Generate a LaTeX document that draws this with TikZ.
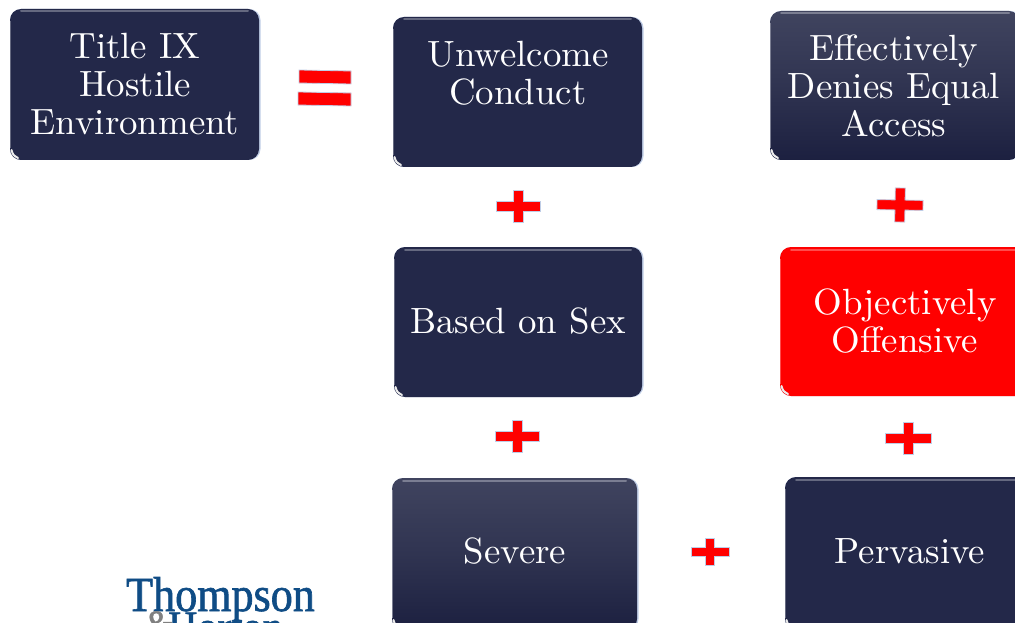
\documentclass[tikz,border=0pt]{standalone}
\usepackage{fontspec}
\newfontfamily\logofont[FakeStretch=0.9,FakeBold=1.2]{Liberation Serif}
\newfontfamily\boxfont[Extension=.otf,FakeStretch=1.01]{lmroman10-regular}
\definecolor{navy}{HTML}{232849}
\definecolor{navytop}{HTML}{40445F}
\definecolor{navybot}{HTML}{1C2040}
\definecolor{logoblue}{HTML}{0F4C85}
\definecolor{edgeblue}{HTML}{BFCDE6}
\tikzset{x=1pt,y=-1pt,
  boxbase/.style={rounded corners=11pt},
  flatnavy/.style={boxbase,fill=navy},
  gradnavy/.style={boxbase,top color=navytop,bottom color=navybot,middle color=navytop!55!navybot},
  redbox/.style={boxbase,fill=red},
  boxtext/.style={text=white,align=center,font=\boxfont\fontsize{36.5}{38}\selectfont,inner sep=0pt},
  symbolshape/.style={fill=red,draw=edgeblue,line width=0.8pt,line join=miter},
}
% #1 name, #2 x1, #3 y1, #4 x2, #5 y2, #6 fill style, #7 highlight colour, #8 text x, #9 text y
\newcommand{\glossybox}[9]{%
  \fill[boxbase,edgeblue] (#2,#3) rectangle (#4+1.5,#5);
  \path[#6] (#2,#3) rectangle (#4,#5);
  \draw[#7,line width=2pt,line cap=round] (#2+11,#3+2.5) -- (#4-11,#3+2.5);
  \draw[#7,line width=1pt] (#2+0.5,#3+12) -- (#2+0.5,#5-12);
  \draw[white!85!gray,line width=2pt,line cap=round] (#2+1.5,#5-10) .. controls (#2+3,#5-5) .. (#2+8,#5-2);
  \coordinate (textpos) at (#8,#9);
}
% #1 name, #2 centre x, #3 centre y, #4 half width, #5 half height, #6 half thickness, #7 angle
\newcommand{\plussign}[7]{%
  \coordinate (#1) at (#2,#3);
  \path[symbolshape,shift={(#1)},rotate=#7]
    (-#4,-#6) -- (-#6,-#6) -- (-#6,-#5) -- (#6,-#5) -- (#6,-#6) -- (#4,-#6)
    -- (#4,#6) -- (#6,#6) -- (#6,#5) -- (-#6,#5) -- (-#6,#6) -- (-#4,#6) -- cycle;
}
\begin{document}
\begin{tikzpicture}
\useasboundingbox (0,0) rectangle (1015,623);
\clip (0,0) rectangle (1015,623);
\fill[white] (0,0) rectangle (1015,623);

\glossybox{title}{10}{9}{259}{160}{flatnavy}{navy!70!white}{135}{84}
\node[boxtext] (title) at (textpos) {Title IX\\Hostile\\Environment};
\glossybox{unwelcome}{393}{17}{642}{167}{flatnavy}{navy!70!white}{518}{73}
\node[boxtext] (unwelcome) at (textpos) {Unwelcome\\Conduct};
\glossybox{denies}{770}{11}{1020}{160}{gradnavy}{navy!60!white}{894}{86}
\node[boxtext] (denies) at (textpos) {Effectively\\Denies Equal\\Access};
\glossybox{sex}{394}{247}{642}{397}{flatnavy}{navy!70!white}{518}{321}
\node[boxtext] (sex) at (textpos) {Based on Sex};
\glossybox{offensive}{780}{247}{1030}{396}{redbox}{red!70!white}{905}{321}
\node[boxtext] (offensive) at (textpos) {Objectively\\Offensive};
\glossybox{severe}{392}{478}{637}{630}{gradnavy}{navy!60!white}{515}{551}
\node[boxtext] (severe) at (textpos) {Severe};
\glossybox{pervasive}{785}{477}{1035}{630}{flatnavy}{navy!70!white}{910}{551}
\node[boxtext] (pervasive) at (textpos) {Pervasive};

\path[symbolshape] (299,70) -- (351,71) -- (351,84) -- (299,83) -- cycle;
\path[symbolshape] (298,92) -- (351,93) -- (351,106) -- (298,105) -- cycle;

\plussign{p1}{518}{206}{22}{16}{5}{0}
\plussign{p2}{900}{205}{23}{17}{5}{-1}
\plussign{p3}{517}{436}{22}{16}{5}{0}
\plussign{p4}{908}{438}{23}{16}{5}{0}
\plussign{p5}{710}{552}{19}{13.5}{4.5}{0}

\node[inner sep=0pt,text=logoblue,font=\logofont\fontsize{49}{49}\selectfont,anchor=base west] (thompson) at (126,611) {Thompson};
\node[inner sep=0pt,text=gray,font=\logofont\fontsize{40}{40}\selectfont,anchor=base west] (amp) at (145,638) {\&};
\node[inner sep=0pt,text=logoblue,font=\logofont\fontsize{45}{45}\selectfont,anchor=base west] (horton) at (168,642) {Horton};
\end{tikzpicture}
\end{document}
